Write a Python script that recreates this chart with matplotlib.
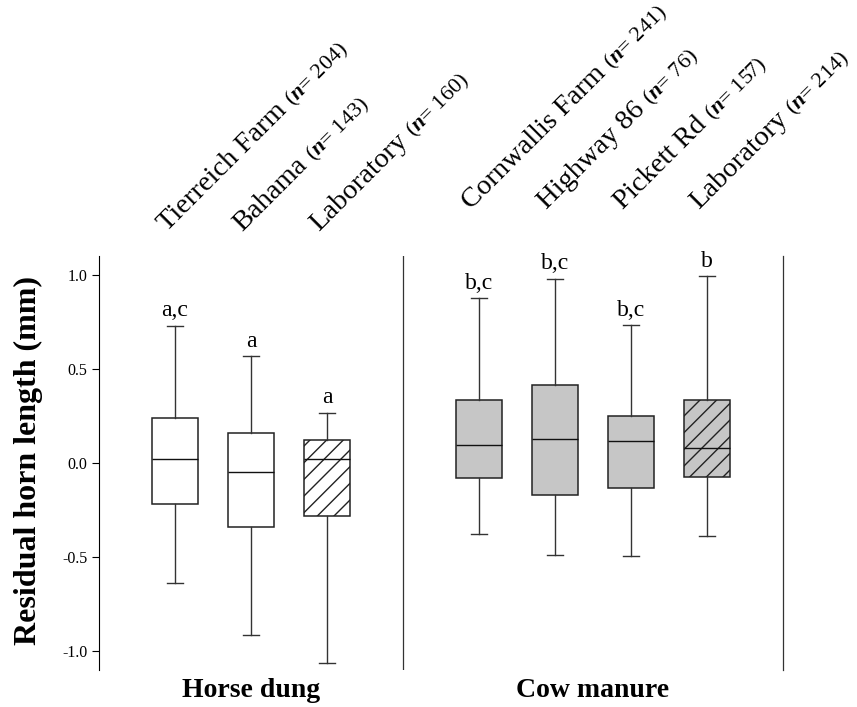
import matplotlib
matplotlib.use("Agg")
import matplotlib.pyplot as plt
from matplotlib.transforms import IdentityTransform
import math

plt.rcParams['font.family'] = ['Liberation Serif', 'DejaVu Serif']
plt.rcParams['mathtext.fontset'] = 'custom'
plt.rcParams['mathtext.rm'] = 'Liberation Serif'
plt.rcParams['mathtext.it'] = 'Liberation Serif:italic:bold'
plt.rcParams['hatch.linewidth'] = 1.0

# ---- data ----
sites = ["Tierreich Farm", "Bahama", "Laboratory",
         "Cornwallis Farm", "Highway 86", "Pickett Rd", "Laboratory"]
n_values = [204, 143, 160, 241, 76, 157, 214]
groups = ["Horse dung", "Horse dung", "Horse dung",
          "Cow manure", "Cow manure", "Cow manure", "Cow manure"]
whisker_low = [-0.64, -0.915, -1.065, -0.376, -0.49, -0.495, -0.39]
q1 = [-0.22, -0.34, -0.28, -0.08, -0.17, -0.134, -0.074]
median = [0.02, -0.05, 0.02, 0.094, 0.13, 0.118, 0.078]
q3 = [0.24, 0.16, 0.12, 0.335, 0.417, 0.25, 0.335]
whisker_high = [0.73, 0.567, 0.267, 0.876, 0.98, 0.733, 0.993]
letters = ["a,c", "a", "a", "b,c", "b,c", "b,c", "b"]
is_lab = [False, False, True, False, False, False, True]
yticks = [-1.0, -0.5, 0.0, 0.5, 1.0]

positions = [1, 2, 3, 5, 6, 7, 8]

W, H = 857, 707
fig = plt.figure(figsize=(W / 100, H / 100), dpi=100)
ax = fig.add_axes([99 / W, 1 - 670 / H, (783 - 99) / W, (670 - 256) / H])

stats = []
for i in range(len(sites)):
    stats.append(dict(whislo=whisker_low[i], q1=q1[i], med=median[i],
                      q3=q3[i], whishi=whisker_high[i], fliers=[], label=sites[i]))

bp = ax.bxp(stats, positions=positions, widths=0.6, capwidths=0.2,
            patch_artist=True, showfliers=False,
            boxprops=dict(edgecolor='#222222', linewidth=1.1),
            medianprops=dict(color='#111111', linewidth=1.0),
            whiskerprops=dict(color='#333333', linewidth=1.0),
            capprops=dict(color='#333333', linewidth=1.0))

for i, box in enumerate(bp['boxes']):
    fc = 'white' if groups[i] == "Horse dung" else '#c6c6c6'
    box.set_facecolor(fc)
    if is_lab[i]:
        box.set_hatch('//')

ax.set_xlim(0, 9)
ax.set_ylim(-1.1, 1.1)
ax.set_yticks(yticks)
ax.set_yticklabels([f"{v:.1f}" for v in yticks], fontsize=11.5)
ax.tick_params(axis='y', direction='out', length=5, width=0.8)
ax.set_xticks([])
for s in ['top', 'right', 'bottom']:
    ax.spines[s].set_visible(False)
ax.spines['left'].set_linewidth(0.8)
ax.axvline(4, color='#333333', linewidth=0.9)
ax.axvline(9, color='#333333', linewidth=0.9, clip_on=False)

ax.set_ylabel("Residual horn length (mm)", fontsize=23, fontweight='bold')
ax.yaxis.set_label_coords((43 - 99) / (783 - 99), 0.507)

for i, p in enumerate(positions):
    ax.text(p, whisker_high[i] + 0.05, letters[i], ha='center', va='baseline', fontsize=17)

# group labels
for g in ["Horse dung", "Cow manure"]:
    ps = [positions[i] for i in range(len(sites)) if groups[i] == g]
    cx = (min(ps) + max(ps)) / 2
    ax.text(cx, -0.065, g, transform=ax.get_xaxis_transform(), ha='center',
            va='baseline', fontsize=20, fontweight='bold')

# rotated site labels
renderer = fig.canvas.get_renderer()
c = math.cos(math.radians(45))
for i, p in enumerate(positions):
    x0 = ax.transData.transform((p - 0.11, 0))[0]
    ybase = 232 if groups[i] == "Horse dung" else 210
    y0 = H - ybase
    fig.text(x0, y0, sites[i], transform=IdentityTransform(), rotation=45,
             rotation_mode='anchor', ha='left', va='baseline', fontsize=20.5)
    tmp = fig.text(0, 0, sites[i] + " ", fontsize=20.5)
    w = tmp.get_window_extent(renderer).width
    tmp.remove()
    fig.text(x0 + w * c, y0 + w * c, r"($\mathit{n}$= %d)" % n_values[i],
             transform=IdentityTransform(), rotation=45, rotation_mode='anchor',
             ha='left', va='baseline', fontsize=16)

fig.savefig("out.png", dpi=100)
